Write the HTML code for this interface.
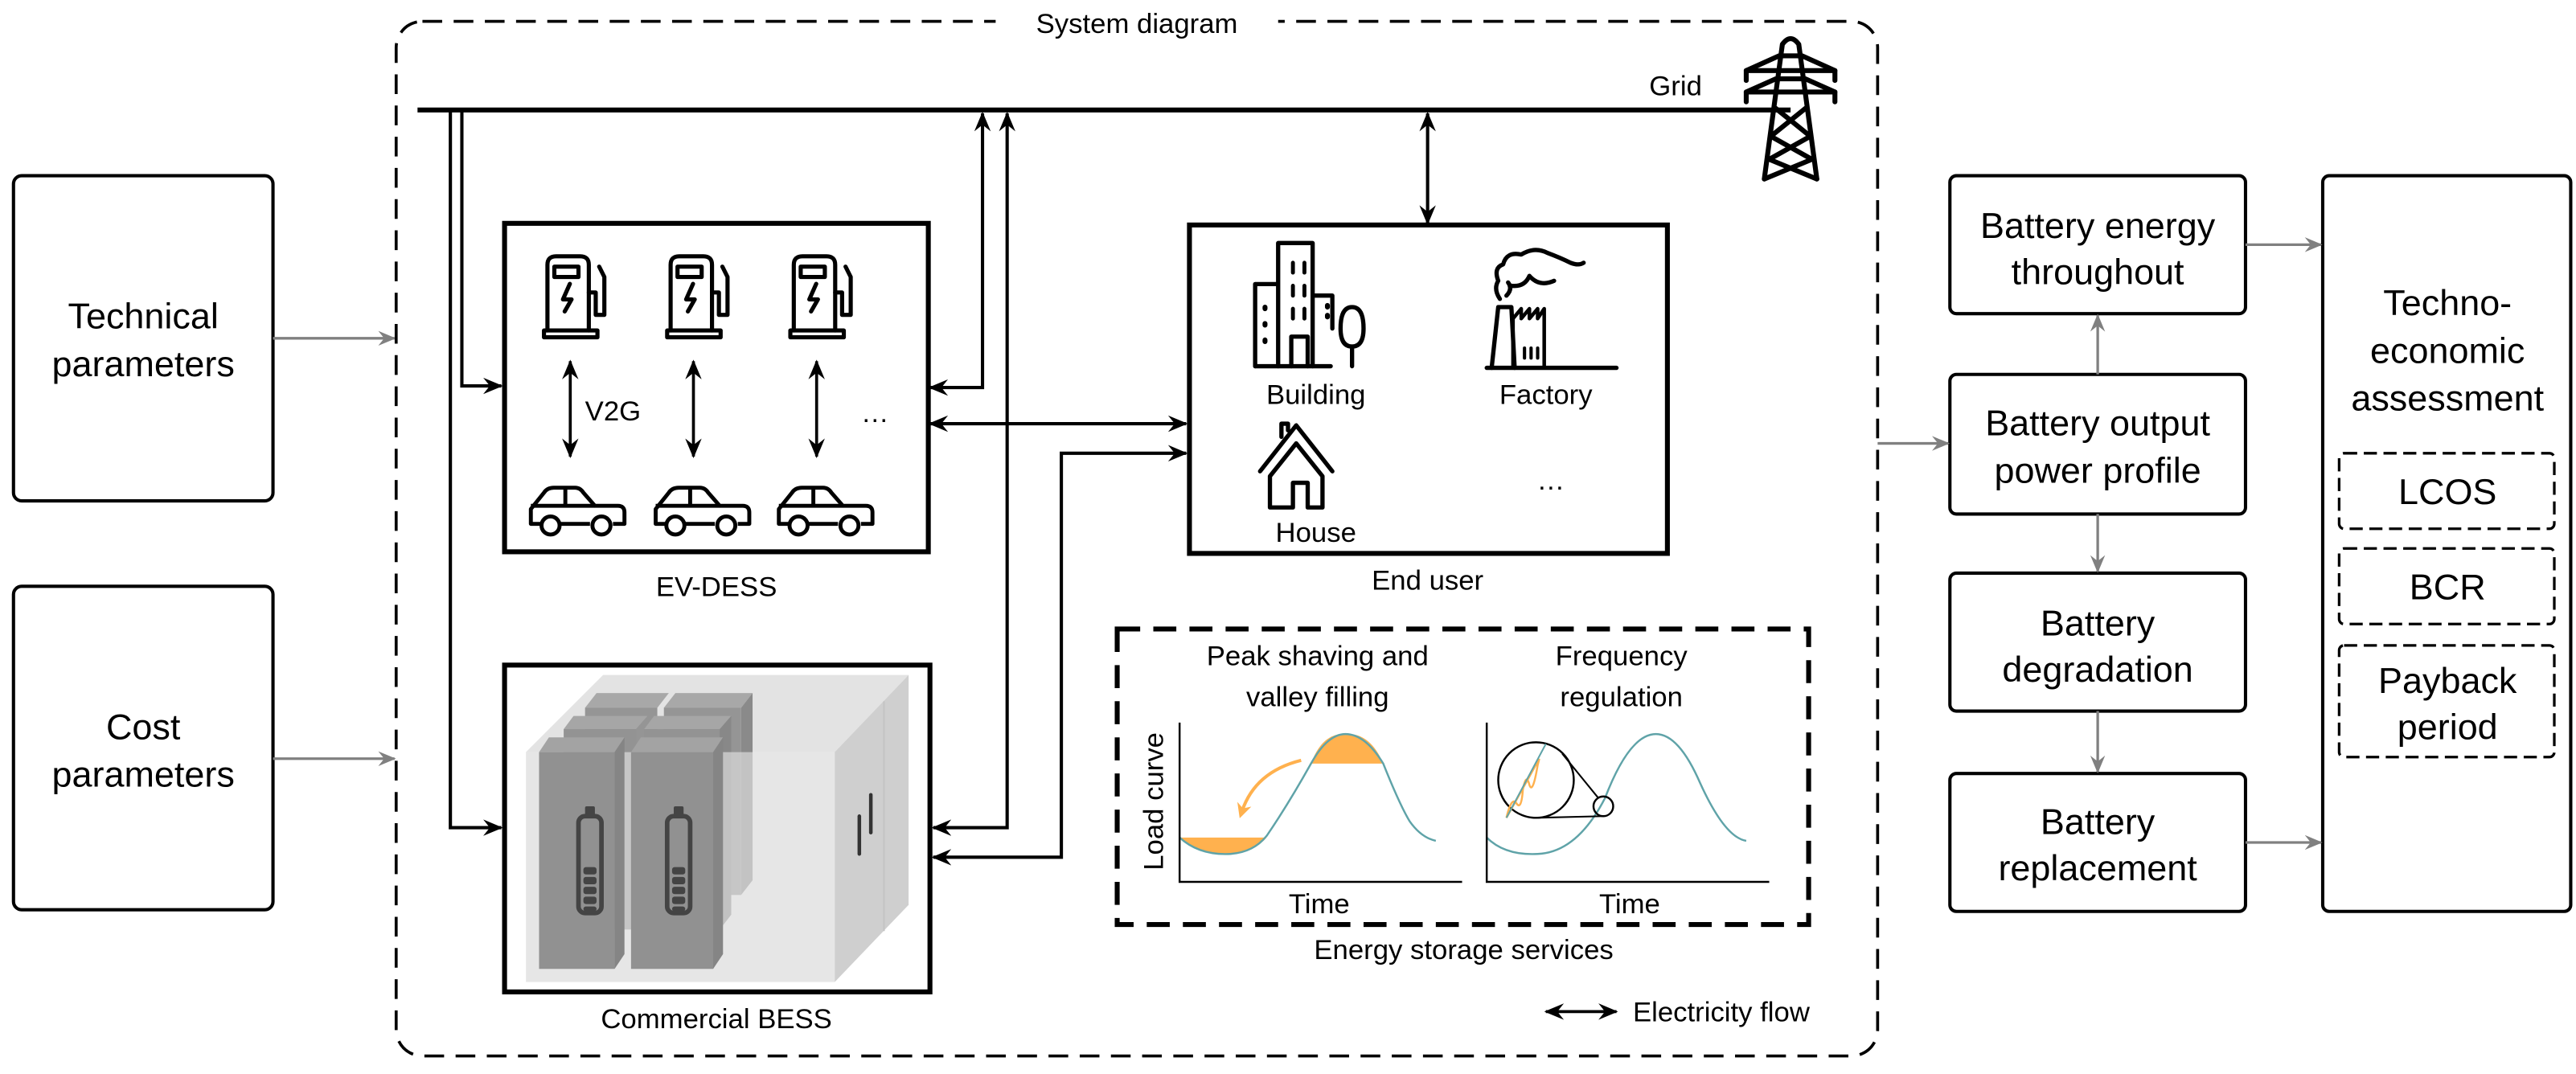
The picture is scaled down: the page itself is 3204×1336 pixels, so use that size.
<!DOCTYPE html>
<html><head><meta charset="utf-8"><style>html,body{margin:0;padding:0;background:#fff}svg{display:block}svg text{font-family:"Liberation Sans",Arial,sans-serif}</style></head>
<body>
<svg width="3204" height="1336" viewBox="0 0 1568 654" xmlns="http://www.w3.org/2000/svg" style="font-family:'Liberation Sans',Arial,sans-serif">
<defs>
<marker id="ah" viewBox="0 0 12 10" refX="11" refY="5" markerWidth="12" markerHeight="10" markerUnits="userSpaceOnUse" orient="auto-start-reverse"><path d="M0,0 L12,5 L0,10 L4,5 z" fill="#000"/></marker>
<marker id="ag" viewBox="0 0 12 10" refX="11" refY="5" markerWidth="11" markerHeight="9" markerUnits="userSpaceOnUse" orient="auto"><path d="M0,0 L12,5 L0,10 L4,5 z" fill="#808080"/></marker>
<marker id="ao" viewBox="0 0 10 10" refX="5" refY="5" markerWidth="9" markerHeight="9" markerUnits="userSpaceOnUse" orient="auto"><path d="M0,0 L10,5 L0,10 L3,5 z" fill="#ffb14e"/></marker>
<g id="charger" fill="none" stroke="#000" stroke-width="2.4" stroke-linejoin="round" stroke-linecap="round">
<path d="M2,44 V6 Q2,1 7,1 H21 Q26,1 26,6 V44"/>
<rect x="0" y="44" width="31" height="4"/>
<rect x="6" y="7" width="14" height="6"/>
<path d="M15,17 L11,26 H16 L12,33"/>
<path d="M26,22 H30 V35 H35 V13 L32,7"/>
</g>
<g id="car" fill="none" stroke="#000" stroke-width="2.4" stroke-linejoin="round">
<path d="M9,24 H3 V15 L11,5 Q13,2 17,2 H30 Q33,2 35,5 L42,13 H56 Q60,13 60,17 V24 H53 M39,24 H21"/>
<path d="M3,13 H42 M24,2 V13"/>
<circle cx="15" cy="25" r="5.5" fill="#fff"/>
<circle cx="46" cy="25" r="5.5" fill="#fff"/>
</g>
</defs>
<rect width="1568" height="654" fill="#fff"/>

<rect x="8" y="107" width="158" height="198" rx="5" fill="#fff" stroke="#000" stroke-width="2"/>
<text x="87" y="200" font-size="22" text-anchor="middle">Technical</text>
<text x="87" y="229" font-size="22" text-anchor="middle">parameters</text>
<rect x="8" y="357" width="158" height="197" rx="5" fill="#fff" stroke="#000" stroke-width="2"/>
<text x="87" y="450" font-size="22" text-anchor="middle">Cost</text>
<text x="87" y="479" font-size="22" text-anchor="middle">parameters</text>
<line x1="166" y1="206" x2="240" y2="206" stroke="#808080" stroke-width="1.6" marker-end="url(#ag)"/>
<line x1="166" y1="462" x2="240" y2="462" stroke="#808080" stroke-width="1.6" marker-end="url(#ag)"/>

<rect x="241" y="13" width="902" height="630" rx="16" fill="none" stroke="#000" stroke-width="1.8" stroke-dasharray="12,7"/>
<rect x="606" y="3" width="172" height="20" fill="#fff"/>
<text x="692" y="20" font-size="17" text-anchor="middle">System diagram</text>

<line x1="254" y1="67" x2="1090" y2="67" stroke="#000" stroke-width="3"/>
<text x="1020" y="58" font-size="17" text-anchor="middle">Grid</text>
<g fill="none" stroke="#000" stroke-width="3" stroke-linejoin="round" stroke-linecap="round">
<path d="M1074,109 L1085,27 Q1090,20 1095,27 L1106,109"/>
<path d="M1063,49 V43 L1083,34 H1097 L1117,43 V49"/>
<path d="M1063,43 H1117"/>
<path d="M1063,62 V56 L1081,48 H1099 L1117,56 V62"/>
<path d="M1063,56 H1117"/>
<path d="M1081,66 L1102,83 L1077,97 L1106,109 M1099,66 L1078,83 L1103,97 L1074,109"/>
</g>

<g fill="none" stroke="#000" stroke-width="2">
<polyline points="281,67 281,235 305,235" marker-end="url(#ah)"/>
<polyline points="274,67 274,504 305,504" marker-end="url(#ah)"/>
<polyline points="566,236 598,236 598,69" marker-start="url(#ah)" marker-end="url(#ah)"/>
<polyline points="568,504 613,504 613,69" marker-start="url(#ah)" marker-end="url(#ah)"/>
<line x1="566" y1="258" x2="722" y2="258" marker-start="url(#ah)" marker-end="url(#ah)"/>
<polyline points="568,522 646,522 646,276 722,276" marker-start="url(#ah)" marker-end="url(#ah)"/>
<line x1="869" y1="69" x2="869" y2="136" marker-start="url(#ah)" marker-end="url(#ah)"/>
</g>

<rect x="307" y="136" width="258" height="200" fill="#fff" stroke="#000" stroke-width="3"/>
<use href="#charger" transform="translate(331,155) scale(1.05)"/>
<use href="#charger" transform="translate(406,155) scale(1.05)"/>
<use href="#charger" transform="translate(481,155) scale(1.05)"/>
<g stroke="#000" stroke-width="1.8" fill="none">
<line x1="347" y1="220" x2="347" y2="278" marker-start="url(#ah)" marker-end="url(#ah)"/>
<line x1="422" y1="220" x2="422" y2="278" marker-start="url(#ah)" marker-end="url(#ah)"/>
<line x1="497" y1="220" x2="497" y2="278" marker-start="url(#ah)" marker-end="url(#ah)"/>
</g>
<text x="356" y="256" font-size="17">V2G</text>
<text x="524" y="257" font-size="17">…</text>
<use href="#car" x="320" y="295"/>
<use href="#car" x="396" y="295"/>
<use href="#car" x="471" y="295"/>
<text x="436" y="363" font-size="17" text-anchor="middle">EV-DESS</text>

<rect x="724" y="137" width="291" height="200" fill="#fff" stroke="#000" stroke-width="3"/>
<g fill="none" stroke="#000" stroke-width="2.6" stroke-linejoin="round" stroke-linecap="round">
<path d="M764,223 V173 H778 M778,223 V148 H799 V223 M799,180 H811 V200"/>
<path d="M764,223 H810"/>
<path d="M786,223 V205 H796 V223"/>
<path d="M787,160 V166 M794,160 V166 M787,174 V180 M794,174 V180 M787,188 V194 M794,188 V194" stroke-width="2.4"/>
<path d="M770,187 v1 M770,197 v1 M770,207 v1 M808,186 v1 M808,192 v1" stroke-width="3"/>
<path d="M823,223 V211 M823,211 Q816,211 816,200 Q816,187 823,187 Q830,187 830,200 Q830,211 823,211"/>
<path d="M905,224 H984"/>
<path d="M908,224 L912,187 H920 L922,224"/>
<path d="M921,224 V194 L926,188 V193 M926,194 L931,188 V194 M931,194 L936,188 V194 M936,194 L940,188 V224" stroke-width="2.2"/>
<path d="M928,212 V218 M932,212 V218 M936,212 V218" stroke-width="2"/>
<path d="M913,182 Q909,176 912,171 Q909,163 915,161 Q917,153 926,155 Q934,150 942,154 Q950,157 956,160 Q961,162 964,160 M917,180 Q921,176 918,172 M920,174 Q928,175 931,168 Q937,175 946,171"/>
<path d="M773,309 V290 L789,270 L805,290 V309 H796 V294 H787 V309 Z"/>
<path d="M767,287 L789,259 L811,287 M780,266 V258 H784 V262"/>
</g>
<text x="801" y="246" font-size="17" text-anchor="middle">Building</text>
<text x="941" y="246" font-size="17" text-anchor="middle">Factory</text>
<text x="801" y="330" font-size="17" text-anchor="middle">House</text>
<text x="944" y="298" font-size="17" text-anchor="middle">…</text>
<text x="869" y="359" font-size="17" text-anchor="middle">End user</text>

<rect x="307" y="405" width="259" height="199" fill="#fff" stroke="#000" stroke-width="3"/>
<polygon points="320,458 367,411 553,411 508,458" fill="#e3e3e3"/>
<polygon points="508,458 553,411 553,551 508,598" fill="#cfcfcf"/>
<line x1="538" y1="427" x2="538" y2="567" stroke="#c4c4c4" stroke-width="1"/>
<g>
<polygon points="356,431 363,422 407,422 400,431" fill="#a8a8a8"/><rect x="356" y="431" width="44" height="114" fill="#959595"/>
<polygon points="404,431 411,422 458,422 451,431" fill="#a8a8a8"/><rect x="404" y="431" width="47" height="114" fill="#959595"/>
<polygon points="451,431 458,422 458,536 451,545" fill="#8a8a8a"/>
<polygon points="343,444 349,436 394,436 387,444" fill="#a6a6a6"/><rect x="343" y="444" width="44" height="122" fill="#939393"/>
<polygon points="392,444 398,436 445,436 438,444" fill="#a6a6a6"/><rect x="392" y="444" width="46" height="122" fill="#939393"/>
<polygon points="438,444 445,436 445,557 438,566" fill="#888"/>
</g>
<rect x="320" y="458" width="188" height="140" fill="#dcdcdc" opacity="0.7"/>
<polygon points="328,458 334,449 380,449 374,458" fill="#a3a3a3"/>
<rect x="328" y="458" width="46" height="132" fill="#919191"/>
<polygon points="374,458 380,449 380,581 374,590" fill="#858585"/>
<polygon points="384,458 390,449 440,449 434,458" fill="#a3a3a3"/>
<rect x="384" y="458" width="50" height="132" fill="#919191"/>
<polygon points="434,458 440,449 440,581 434,590" fill="#858585"/>
<g fill="none" stroke="#444" stroke-width="2.8">
<rect x="352" y="497" width="14" height="59" rx="4"/>
<rect x="406" y="497" width="14" height="59" rx="4"/>
</g>
<g fill="#444">
<rect x="356" y="491" width="6" height="6" rx="1"/><rect x="410" y="491" width="6" height="6" rx="1"/>
<rect x="355" y="528" width="8" height="4.5" rx="1.5"/><rect x="355" y="534" width="8" height="4.5" rx="1.5"/><rect x="355" y="540" width="8" height="4.5" rx="1.5"/><rect x="355" y="546" width="8" height="4.5" rx="1.5"/><rect x="355" y="552" width="8" height="3" rx="1.5"/>
<rect x="409" y="528" width="8" height="4.5" rx="1.5"/><rect x="409" y="534" width="8" height="4.5" rx="1.5"/><rect x="409" y="540" width="8" height="4.5" rx="1.5"/><rect x="409" y="546" width="8" height="4.5" rx="1.5"/><rect x="409" y="552" width="8" height="3" rx="1.5"/>
</g>
<g stroke="#333" stroke-width="2.2" stroke-linecap="round"><line x1="523" y1="497" x2="523" y2="520"/><line x1="530" y1="484" x2="530" y2="507"/></g>
<text x="436" y="626" font-size="17" text-anchor="middle">Commercial BESS</text>

<rect x="680" y="383" width="421" height="180" fill="none" stroke="#000" stroke-width="3" stroke-dasharray="14,8"/>
<text x="802" y="405" font-size="17" text-anchor="middle">Peak shaving and</text>
<text x="802" y="430" font-size="17" text-anchor="middle">valley filling</text>
<text x="987" y="405" font-size="17" text-anchor="middle">Frequency</text>
<text x="987" y="430" font-size="17" text-anchor="middle">regulation</text>
<text transform="translate(708,488) rotate(-90)" font-size="17" text-anchor="middle">Load curve</text>
<path d="M718,510 H771 Q762,520 749,520 Q728,521 718,510 Z" fill="#ffb14e"/>
<path d="M798,465 H842 Q834,446 819,447 Q805,446 798,465 Z" fill="#ffb14e"/>
<path d="M718,510 Q730,521 749,520 Q763,519 771,509 Q784,490 798,465 Q808,447 819,447 Q831,447 842,465 Q852,490 858,500 Q865,510 874,512" fill="none" stroke="#5fa3a8" stroke-width="1.2"/>
<path d="M792,463 Q764,470 756,494" fill="none" stroke="#ffb14e" stroke-width="2" marker-end="url(#ao)"/>
<path d="M718,440 V537 H890" fill="none" stroke="#000" stroke-width="1.2"/>
<path d="M905,510 Q916,521 936,520 Q960,519 977,486 Q992,447 1008,447 Q1022,447 1035,477 Q1050,510 1063,512" fill="none" stroke="#5fa3a8" stroke-width="1.2"/>
<path d="M905,440 V537 H1077" fill="none" stroke="#000" stroke-width="1.2"/>
<ellipse cx="935" cy="475" rx="23" ry="23" fill="#fff" stroke="#000" stroke-width="1.2"/>
<path d="M917,498 L937,462 M917,498 Q920,485 923,489 Q926,494 927,481 Q929,470 931,478 Q933,484 936,466 L937,462" fill="none" stroke="#ffb14e" stroke-width="1.2"/>
<line x1="917" y1="498" x2="941" y2="453" stroke="#5fa3a8" stroke-width="1"/>
<circle cx="976" cy="491" r="6" fill="none" stroke="#000" stroke-width="1.2"/>
<line x1="951" y1="459" x2="973" y2="486" stroke="#000" stroke-width="1"/>
<line x1="935" y1="498" x2="976" y2="497" stroke="#000" stroke-width="1"/>
<text x="803" y="556" font-size="17" text-anchor="middle">Time</text>
<text x="992" y="556" font-size="17" text-anchor="middle">Time</text>
<text x="891" y="584" font-size="17" text-anchor="middle">Energy storage services</text>

<line x1="941" y1="616" x2="984" y2="616" stroke="#000" stroke-width="1.8" marker-start="url(#ah)" marker-end="url(#ah)"/>
<text x="994" y="622" font-size="17">Electricity flow</text>

<g fill="#fff" stroke="#000" stroke-width="2">
<rect x="1187" y="107" width="180" height="84" rx="4"/>
<rect x="1187" y="228" width="180" height="85" rx="4"/>
<rect x="1187" y="349" width="180" height="84" rx="4"/>
<rect x="1187" y="471" width="180" height="84" rx="4"/>
<rect x="1414" y="107" width="151" height="448" rx="4"/>
</g>
<g font-size="22" text-anchor="middle">
<text x="1277" y="145">Battery energy</text><text x="1277" y="173">throughout</text>
<text x="1277" y="265">Battery output</text><text x="1277" y="294">power profile</text>
<text x="1277" y="387">Battery</text><text x="1277" y="415">degradation</text>
<text x="1277" y="508">Battery</text><text x="1277" y="536">replacement</text>
<text x="1490" y="192">Techno-</text><text x="1490" y="221">economic</text><text x="1490" y="250">assessment</text>
</g>
<g fill="none" stroke="#000" stroke-width="1.6" stroke-dasharray="8,4">
<rect x="1424" y="276" width="131" height="46" rx="3"/>
<rect x="1424" y="334" width="131" height="46" rx="3"/>
<rect x="1424" y="393" width="131" height="68" rx="3"/>
</g>
<g font-size="22" text-anchor="middle">
<text x="1490" y="307">LCOS</text>
<text x="1490" y="365">BCR</text>
<text x="1490" y="422">Payback</text><text x="1490" y="450">period</text>
</g>
<g stroke="#808080" stroke-width="1.6" fill="none">
<line x1="1143" y1="270" x2="1186" y2="270" marker-end="url(#ag)"/>
<line x1="1277" y1="228" x2="1277" y2="192" marker-end="url(#ag)"/>
<line x1="1277" y1="313" x2="1277" y2="348" marker-end="url(#ag)"/>
<line x1="1277" y1="433" x2="1277" y2="470" marker-end="url(#ag)"/>
<line x1="1367" y1="149" x2="1413" y2="149" marker-end="url(#ag)"/>
<line x1="1367" y1="513" x2="1413" y2="513" marker-end="url(#ag)"/>
</g>
</svg>
</body></html>
